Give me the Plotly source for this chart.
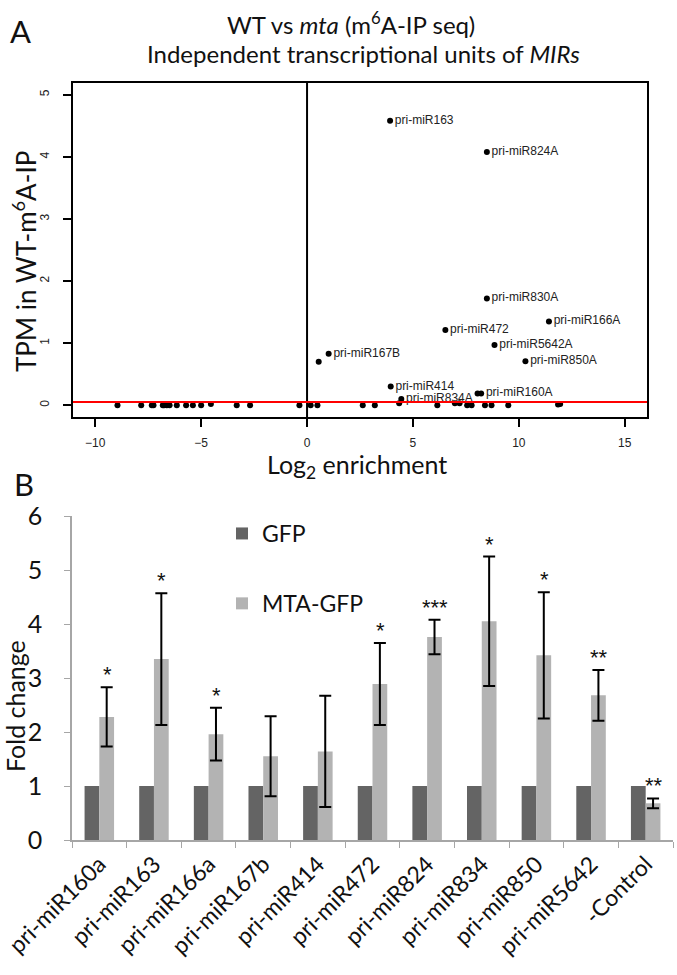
import plotly.graph_objects as go

# ---------------- Panel A data ----------------
lab_names = ["pri-miR163", "pri-miR824A", "pri-miR830A", "pri-miR166A", "pri-miR472",
             "pri-miR5642A", "pri-miR167B", "pri-miR850A", "pri-miR414", "pri-miR834A", "pri-miR160A"]
lab_x = [3.92, 8.49, 8.49, 11.42, 6.53, 8.85, 1.02, 10.31, 3.95, 4.45, 8.22]
lab_y = [4.58, 4.08, 1.72, 1.35, 1.21, 0.97, 0.83, 0.71, 0.30, 0.10, 0.19]

unl_x = [-8.95, -7.83, -7.33, -7.25, -6.81, -6.75, -6.62, -6.49, -6.15, -5.71, -5.39, -5.0,
         -4.54, -3.32, -2.69, -0.36, 0.17, 0.49, 0.55, 2.63, 3.2, 4.35, 6.15, 6.98, 7.2,
         7.56, 7.77, 8.05, 8.4, 8.71, 9.5, 11.85, 11.95]
unl_y = [0.0, 0.0, 0.0, 0.0, 0.0, 0.0, 0.0, 0.0, 0.0, 0.0, 0.0, 0.0,
         0.02, 0.0, 0.0, 0.0, 0.0, 0.0, 0.70, 0.0, 0.0, 0.03, 0.0, 0.03, 0.03,
         0.0, 0.0, 0.19, 0.0, 0.0, 0.0, 0.01, 0.02]

threshold_y = 0.05
vline_x = 0

# ---------------- Panel B data ----------------
categories = ["pri-miR160a", "pri-miR163", "pri-miR166a", "pri-miR167b", "pri-miR414",
              "pri-miR472", "pri-miR824", "pri-miR834", "pri-miR850", "pri-miR5642", "-Control"]
gfp = [1, 1, 1, 1, 1, 1, 1, 1, 1, 1, 1]
mta_gfp = [2.28, 3.35, 1.96, 1.55, 1.64, 2.89, 3.76, 4.05, 3.42, 2.68, 0.68]
mta_err = [0.55, 1.22, 0.49, 0.74, 1.03, 0.76, 0.32, 1.20, 1.17, 0.47, 0.09]
signif = ["*", "*", "*", "", "", "*", "***", "*", "*", "**", "**"]

W, H = 677, 975
def px(x): return x / W
def py(y): return 1 - y / H

SANS = "Liberation Sans, Arial, sans-serif"
CAL = "Lato, Open Sans, sans-serif"

fig = go.Figure()

fig.add_trace(go.Scatter(x=unl_x, y=unl_y, mode="markers",
                         marker=dict(color="black", size=6),
                         xaxis="x", yaxis="y", showlegend=False, hoverinfo="skip"))
fig.add_trace(go.Scatter(x=lab_x, y=lab_y, mode="markers+text", text=lab_names,
                         textposition="middle right",
                         textfont=dict(family=SANS, size=12, color="#222"),
                         marker=dict(color="black", size=6),
                         xaxis="x", yaxis="y", showlegend=False))

fig.add_trace(go.Bar(x=categories, y=gfp, name="GFP", marker=dict(color="#646464", line=dict(width=0)),
                     xaxis="x2", yaxis="y2", legendgroup="g1"))
fig.add_trace(go.Bar(x=categories, y=mta_gfp, name="MTA-GFP",
                     marker=dict(color="#b3b3b3", line=dict(width=0)),
                     error_y=dict(type="data", array=mta_err, color="black", thickness=2, width=6),
                     xaxis="x2", yaxis="y2", legendgroup="g2"))

annotations = []
for c, v, e, s in zip(categories, mta_gfp, mta_err, signif):
    if s:
        annotations.append(dict(x=c, y=v + e, xref="x2", yref="y2", text=s, showarrow=False,
                                xshift=8, yshift=-2, xanchor="center", yanchor="bottom",
                                font=dict(family=SANS, size=22, color="#111111")))

def note(x, y, text, size, angle=0, fam=CAL):
    return dict(x=px(x), y=py(y), xref="paper", yref="paper", showarrow=False, text=text,
                xanchor="center", yanchor="middle", textangle=angle,
                font=dict(family=fam, size=size, color="#111"))

annotations += [
    note(351, 23, "WT vs <i>mta</i> (m<sup>6</sup>A-IP seq)", 24),
    note(363, 53, "Independent transcriptional units of <i>MIRs</i>", 24),
    note(20, 31, "A", 31),
    note(24, 484, "B", 31),
    note(357, 466, "Log<sub>2</sub> enrichment", 25),
    note(24, 262, "TPM in WT-m<sup>6</sup>A-IP", 26, -90),
    note(15, 706, "Fold change", 25, -90),
]

shapes = [
    dict(type="line", xref="x", yref="y domain", x0=vline_x, x1=vline_x, y0=0, y1=1,
         line=dict(color="black", width=2)),
    dict(type="line", xref="x domain", yref="y", x0=0, x1=1, y0=threshold_y, y1=threshold_y,
         line=dict(color="#ff0000", width=2)),
]

fig.update_layout(
    width=W, height=H, margin=dict(l=0, r=0, t=0, b=0, autoexpand=False),
    paper_bgcolor="white", plot_bgcolor="white",
    barmode="group", bargap=0.46, bargroupgap=0,
    xaxis=dict(domain=[px(73), px(647)], anchor="y", range=[-11.05, 16.05], automargin=False,
               tickvals=[-10, -5, 0, 5, 10, 15], ticks="outside", ticklen=8, tickwidth=2,
               tickcolor="black", showline=True, mirror=True, linecolor="black", linewidth=2,
               showgrid=False, zeroline=False, ticklabelstandoff=6,
               tickfont=dict(family=SANS, size=12, color="#222")),
    yaxis=dict(domain=[py(417), py(83)], anchor="x", range=[-0.19, 5.19], automargin=False,
               tickvals=[0, 1, 2, 3, 4, 5], ticks="outside", ticklen=8, tickwidth=2,
               tickcolor="black", showline=True, mirror=True, linecolor="black", linewidth=2,
               showgrid=False, zeroline=False, tickangle=-90, ticklabelstandoff=9,
               tickfont=dict(family=SANS, size=12, color="#222")),
    xaxis2=dict(domain=[px(72), px(673)], anchor="y2", type="category", automargin=False,
                ticks="outside", tickson="boundaries", ticklen=6, tickcolor="#a6a6a6",
                showline=True, linecolor="#a6a6a6", linewidth=1.5, showgrid=False,
                tickangle=-45, tickfont=dict(family=CAL, size=23, color="#111")),
    yaxis2=dict(domain=[py(840), py(516)], anchor="x2", range=[0, 6], dtick=1, automargin=False,
                ticks="outside", ticklen=6, tickcolor="#a6a6a6",
                showline=True, linecolor="#a6a6a6", linewidth=1.5, showgrid=False, zeroline=False,
                ticklabelstandoff=17,
                tickfont=dict(family=CAL, size=25, color="#111")),
    legend=dict(x=px(222), y=py(512), xanchor="left", yanchor="top",
                bgcolor="rgba(0,0,0,0)", tracegroupgap=37,
                font=dict(family=CAL, size=23, color="#111")),
    annotations=annotations, shapes=shapes,
)

fig.write_html("out.html", config={"displayModeBar": False},
               post_script="document.body.style.margin='0px';document.body.style.overflow='hidden';")
